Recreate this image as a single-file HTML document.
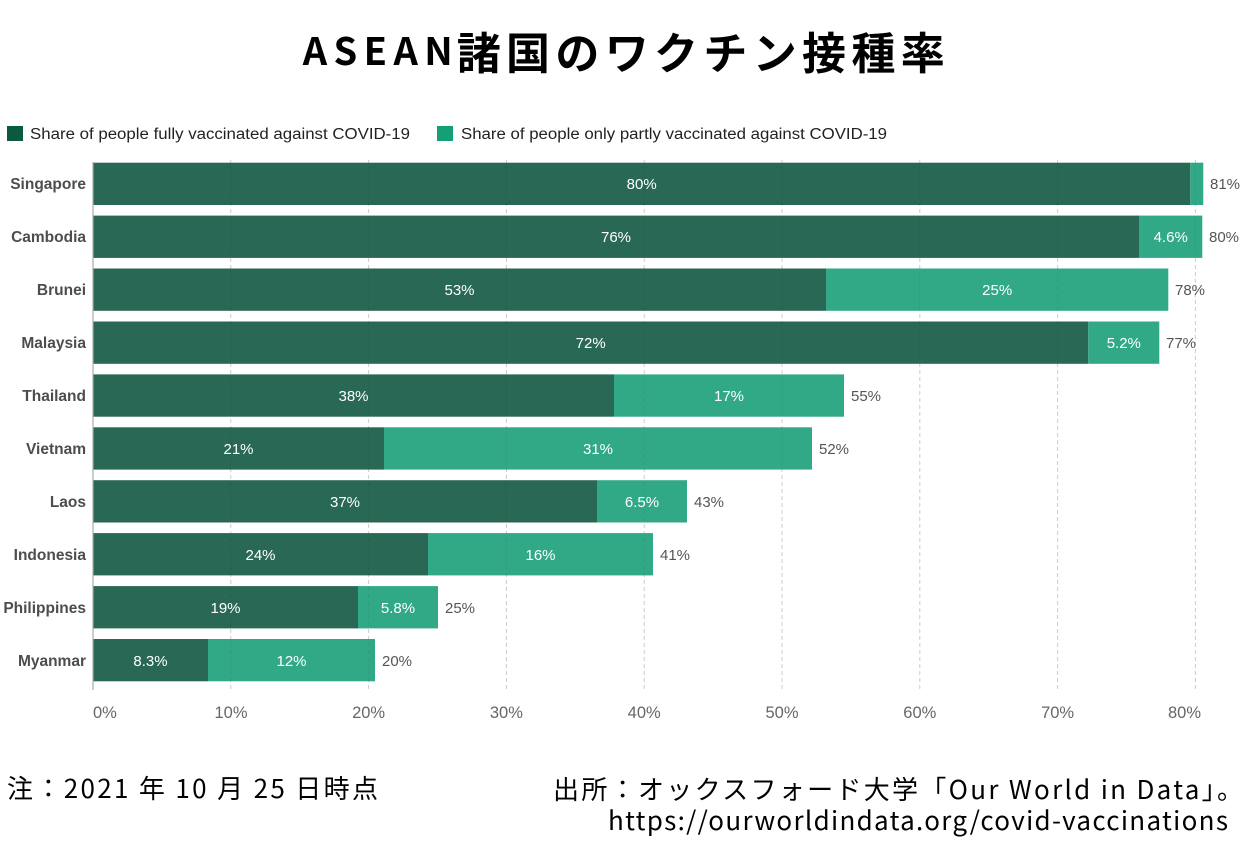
<!DOCTYPE html>
<html>
<head>
<meta charset="utf-8">
<style>
html,body{margin:0;padding:0;background:#fff;}
svg{display:block;}
</style>
</head>
<body>
<svg width="1250" height="857" viewBox="0 0 1250 857" xmlns="http://www.w3.org/2000/svg">
<rect x="0" y="0" width="1250" height="857" fill="#ffffff"/>

<!-- Title -->
<text x="302.7" y="65" font-family="'Noto Sans CJK JP','Liberation Sans',sans-serif" font-weight="bold" font-size="38" fill="#000" textLength="150" lengthAdjust="spacing">ASEAN</text>
<text x="456.7" y="69" font-family="'Liberation Sans','Noto Sans CJK JP',sans-serif" font-weight="bold" font-size="44" fill="#000" textLength="488" lengthAdjust="spacing" style="font-family:'Noto Sans CJK JP',sans-serif">諸国のワクチン接種率</text>

<!-- Legend -->
<rect x="7" y="126" width="16" height="15" fill="#0b5a3f"/>
<text x="30" y="139" font-family="'Liberation Sans',sans-serif" font-size="15.5" fill="#222" textLength="380" lengthAdjust="spacingAndGlyphs">Share of people fully vaccinated against COVID-19</text>
<rect x="437" y="126" width="16" height="15" fill="#12a074"/>
<text x="461" y="139" font-family="'Liberation Sans',sans-serif" font-size="15.5" fill="#222" textLength="426" lengthAdjust="spacingAndGlyphs">Share of people only partly vaccinated against COVID-19</text>

<!-- Gridlines (under) -->
<g stroke="#dcdcdc" stroke-width="1" stroke-dasharray="4,3">
<line x1="230.8" y1="160" x2="230.8" y2="690"/>
<line x1="368.6" y1="160" x2="368.6" y2="690"/>
<line x1="506.4" y1="160" x2="506.4" y2="690"/>
<line x1="644.2" y1="160" x2="644.2" y2="690"/>
<line x1="782" y1="160" x2="782" y2="690"/>
<line x1="919.8" y1="160" x2="919.8" y2="690"/>
<line x1="1057.6" y1="160" x2="1057.6" y2="690"/>
<line x1="1195.4" y1="160" x2="1195.4" y2="690"/>
</g>

<!-- Bars -->
<g>
<!-- Singapore -->
<rect x="93" y="162.7" width="1097.3" height="42.3" fill="#296854"/>
<rect x="1190.3" y="162.7" width="13" height="42.3" fill="#31a987"/>
<!-- Cambodia -->
<rect x="93" y="215.6" width="1046" height="42.3" fill="#296854"/>
<rect x="1139" y="215.6" width="63.3" height="42.3" fill="#31a987"/>
<!-- Brunei -->
<rect x="93" y="268.5" width="733" height="42.3" fill="#296854"/>
<rect x="826" y="268.5" width="342.3" height="42.3" fill="#31a987"/>
<!-- Malaysia -->
<rect x="93" y="321.5" width="995.3" height="42.3" fill="#296854"/>
<rect x="1088.3" y="321.5" width="71" height="42.3" fill="#31a987"/>
<!-- Thailand -->
<rect x="93" y="374.4" width="521" height="42.3" fill="#296854"/>
<rect x="614" y="374.4" width="230" height="42.3" fill="#31a987"/>
<!-- Vietnam -->
<rect x="93" y="427.3" width="291" height="42.3" fill="#296854"/>
<rect x="384" y="427.3" width="428" height="42.3" fill="#31a987"/>
<!-- Laos -->
<rect x="93" y="480.2" width="504" height="42.3" fill="#296854"/>
<rect x="597" y="480.2" width="90" height="42.3" fill="#31a987"/>
<!-- Indonesia -->
<rect x="93" y="533.1" width="335" height="42.3" fill="#296854"/>
<rect x="428" y="533.1" width="225" height="42.3" fill="#31a987"/>
<!-- Philippines -->
<rect x="93" y="586.1" width="265" height="42.3" fill="#296854"/>
<rect x="358" y="586.1" width="80" height="42.3" fill="#31a987"/>
<!-- Myanmar -->
<rect x="93" y="639" width="115" height="42.3" fill="#296854"/>
<rect x="208" y="639" width="167" height="42.3" fill="#31a987"/>
</g>

<!-- Gridlines overlay (faint, through bars) -->
<g stroke="rgba(0,0,0,0.07)" stroke-width="1" stroke-dasharray="4,3">
<line x1="230.8" y1="160" x2="230.8" y2="690"/>
<line x1="368.6" y1="160" x2="368.6" y2="690"/>
<line x1="506.4" y1="160" x2="506.4" y2="690"/>
<line x1="644.2" y1="160" x2="644.2" y2="690"/>
<line x1="782" y1="160" x2="782" y2="690"/>
<line x1="919.8" y1="160" x2="919.8" y2="690"/>
<line x1="1057.6" y1="160" x2="1057.6" y2="690"/>
<line x1="1195.4" y1="160" x2="1195.4" y2="690"/>
</g>

<!-- Axis line -->
<line x1="93" y1="162" x2="93" y2="690" stroke="#aaaaaa" stroke-width="1.2"/>

<!-- Country labels -->
<g font-family="'Liberation Sans',sans-serif" font-weight="bold" font-size="15.5" fill="#4d4d4d" text-anchor="end">
<text x="86" y="189">Singapore</text>
<text x="86" y="242">Cambodia</text>
<text x="86" y="295">Brunei</text>
<text x="86" y="348">Malaysia</text>
<text x="86" y="401">Thailand</text>
<text x="86" y="454">Vietnam</text>
<text x="86" y="507">Laos</text>
<text x="86" y="560">Indonesia</text>
<text x="86" y="613">Philippines</text>
<text x="86" y="666">Myanmar</text>
</g>

<!-- In-bar labels -->
<g font-family="'Liberation Sans',sans-serif" font-size="15" fill="#ffffff" text-anchor="middle">
<text x="641.7" y="189">80%</text>
<text x="616" y="242">76%</text>
<text x="1170.7" y="242">4.6%</text>
<text x="459.5" y="295">53%</text>
<text x="997.2" y="295">25%</text>
<text x="590.7" y="348">72%</text>
<text x="1123.8" y="348">5.2%</text>
<text x="353.5" y="401">38%</text>
<text x="729" y="401">17%</text>
<text x="238.5" y="454">21%</text>
<text x="598" y="454">31%</text>
<text x="345" y="507">37%</text>
<text x="642" y="507">6.5%</text>
<text x="260.5" y="560">24%</text>
<text x="540.5" y="560">16%</text>
<text x="225.5" y="613">19%</text>
<text x="398" y="613">5.8%</text>
<text x="150.5" y="666">8.3%</text>
<text x="291.5" y="666">12%</text>
</g>

<!-- Total labels -->
<g font-family="'Liberation Sans',sans-serif" font-size="15" fill="#555555">
<text x="1210" y="189">81%</text>
<text x="1209" y="242">80%</text>
<text x="1175" y="295">78%</text>
<text x="1166" y="348">77%</text>
<text x="851" y="401">55%</text>
<text x="819" y="454">52%</text>
<text x="694" y="507">43%</text>
<text x="660" y="560">41%</text>
<text x="445" y="613">25%</text>
<text x="382" y="666">20%</text>
</g>

<!-- X tick labels -->
<g font-family="'Liberation Sans',sans-serif" font-size="16.5" fill="#666666" text-anchor="middle">
<text x="93" y="718" text-anchor="start">0%</text>
<text x="231" y="718">10%</text>
<text x="368.6" y="718">20%</text>
<text x="506.4" y="718">30%</text>
<text x="644.2" y="718">40%</text>
<text x="782" y="718">50%</text>
<text x="919.8" y="718">60%</text>
<text x="1057.6" y="718">70%</text>
<text x="1201" y="718" text-anchor="end">80%</text>
</g>

<!-- Footer -->
<text x="7" y="798" font-family="'Noto Sans CJK JP',sans-serif" font-size="26" fill="#000" textLength="371" lengthAdjust="spacing">注：2021 年 10 月 25 日時点</text>
<text x="553" y="799" font-family="'Noto Sans CJK JP',sans-serif" font-size="26" fill="#000" textLength="690" lengthAdjust="spacing">出所：オックスフォード大学「Our World in Data」。</text>
<text x="608" y="830" font-family="'Noto Sans CJK JP',sans-serif" font-size="26" fill="#000" textLength="620" lengthAdjust="spacing">https://ourworldindata.org/covid-vaccinations</text>
</svg>
</body>
</html>
